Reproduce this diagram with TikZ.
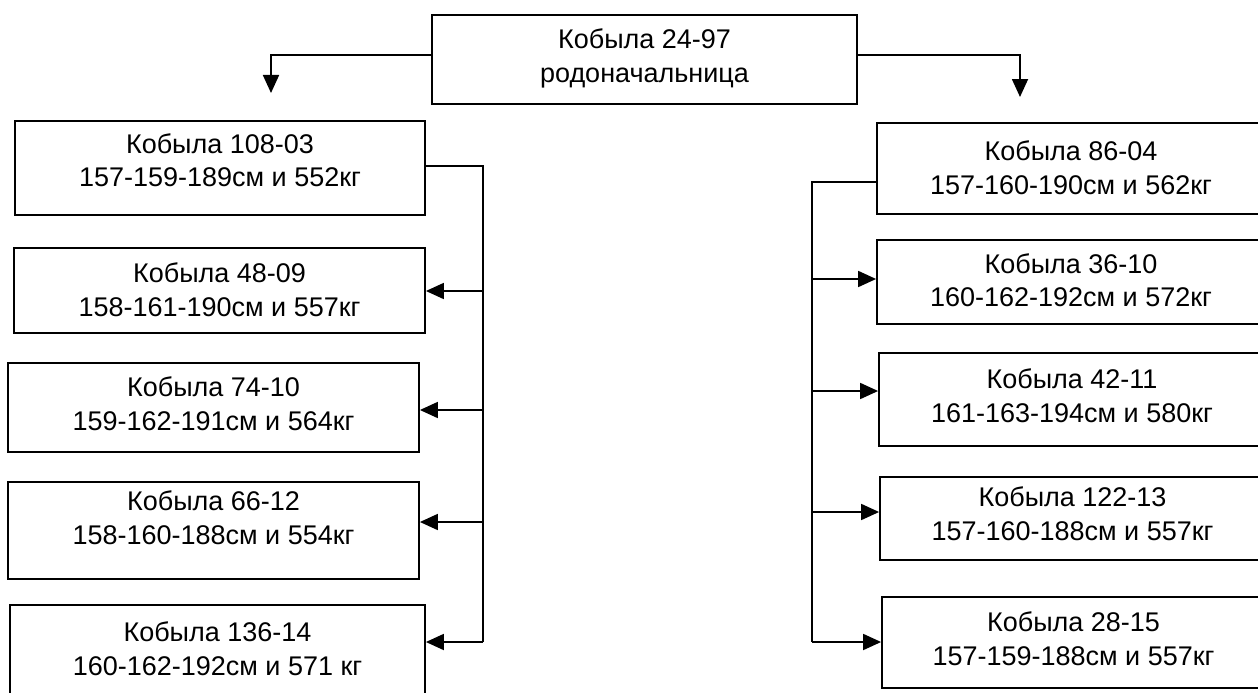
\documentclass[tikz,border=0pt]{standalone}
\usepackage{fontspec}
\setmainfont{Liberation Sans}
\usetikzlibrary{positioning, calc, arrows.meta}

\tikzset{
  mare/.style={draw, line width=1.8pt, inner sep=0pt, align=center,
    font=\fontsize{27}{33.5}\selectfont, text depth=8pt},
  lift/.style={text depth=#1},
  bus/.style={line width=1.3pt},
  arr/.style={line width=1.8pt, -{Triangle[length=18pt, width=16pt]}}
}

\begin{document}
\begin{tikzpicture}[x=1pt, y=-1pt]
    \useasboundingbox (0,0) rectangle (1258,693);
    % founder
    \node[mare, minimum width=425pt, minimum height=89pt] (root) at (644.5,59.5) {Кобыла 24-97\\родоначальница};
    \coordinate (ltip) at (271,93);
    \coordinate (rtip) at (1020,97);
    \draw[arr] (root.west |- 0,55) -- (ltip |- 0,55) -- (ltip);
    \draw[arr] (root.east |- 0,55) -- (rtip |- 0,55) -- (rtip);

    % left line
    \node[mare, lift=16pt, minimum width=410pt, minimum height=94pt] (l1) at (220,168) {Кобыла 108-03\\157-159-189см и 552кг};
    \node[mare, lift=2pt, minimum width=411pt, minimum height=85pt] (l2) at (219.5,290.5) {Кобыла 48-09\\158-161-190см и 557кг};
    \node[mare, minimum width=411pt, minimum height=89pt] (l3) at (213.5,407.5) {Кобыла 74-10\\159-162-191см и 564кг};
    \node[mare, lift=26pt, minimum width=411pt, minimum height=97pt] (l4) at (213.5,530.5) {Кобыла 66-12\\158-160-188см и 554кг};
    \node[mare, minimum width=415pt, minimum height=95pt] (l5) at (217.5,652.5) {Кобыла 136-14\\160-162-192см и 571 кг};
    \coordinate (lbus1) at (483,166);
    \coordinate (lbus2) at (483,291);
    \coordinate (lbus3) at (483,410);
    \coordinate (lbus4) at (483,522);
    \coordinate (lbus5) at (483,642);
    \draw[bus] (lbus1 -| l1.east) -- (lbus1) -- (lbus5);
    \draw[arr] (lbus2) -- (lbus2 -| l2.east);
    \draw[arr] (lbus3) -- (lbus3 -| l3.east);
    \draw[arr] (lbus4) -- (lbus4 -| l4.east);
    \draw[arr] (lbus5) -- (lbus5 -| l5.east);

    % right line
    \node[mare, lift=2pt, minimum width=388pt, minimum height=91pt] (r1) at (1071,168.5) {Кобыла 86-04\\157-160-190см и 562кг};
    \node[mare, lift=4pt, minimum width=388pt, minimum height=84pt] (r2) at (1071,282) {Кобыла 36-10\\160-162-192см и 572кг};
    \node[mare, minimum width=386pt, minimum height=93pt] (r3) at (1072,399.5) {Кобыла 42-11\\161-163-194см и 580кг};
    \node[mare, lift=10pt, minimum width=385pt, minimum height=83pt] (r4) at (1072.5,518.5) {Кобыла 122-13\\157-160-188см и 557кг};
    \node[mare, minimum width=383pt, minimum height=91pt] (r5) at (1073.5,642.5) {Кобыла 28-15\\157-159-188см и 557кг};
    \coordinate (rbus1) at (812,182);
    \coordinate (rbus2) at (812,279);
    \coordinate (rbus3) at (812,391);
    \coordinate (rbus4) at (812,512);
    \coordinate (rbus5) at (812,642);
    \draw[bus] (rbus1 -| r1.west) -- (rbus1) -- (rbus5);
    \draw[arr] (rbus2) -- (rbus2 -| r2.west);
    \draw[arr] (rbus3) -- (rbus3 -| r3.west);
    \draw[arr] (rbus4) -- (rbus4 -| r4.west);
    \draw[arr] (rbus5) -- (rbus5 -| r5.west);
  \end{tikzpicture}
\end{document}
